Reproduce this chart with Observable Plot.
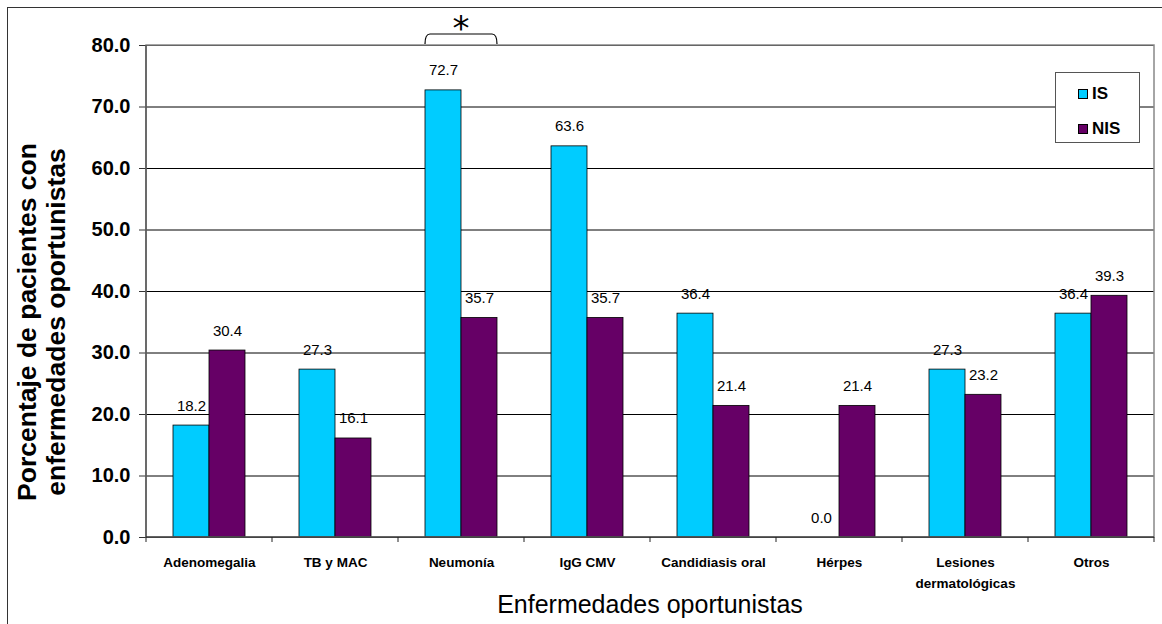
<!DOCTYPE html>
<html><head><meta charset="utf-8">
<script src="https://cdn.jsdelivr.net/npm/d3@7"></script>
<script src="https://cdn.jsdelivr.net/npm/@observablehq/plot@0.6"></script>
<style>
body{margin:0;background:#fff;overflow:hidden;font-family:"Liberation Sans",Arial,sans-serif}
#wrap{position:relative;width:1162px;height:624px;overflow:hidden;background:#fff}
#wrap svg{position:absolute;left:0;top:0}
#border{position:absolute;left:7px;top:7px;width:1170px;height:640px;border:1.5px solid #333;box-sizing:border-box;pointer-events:none}
#ytitle{position:absolute;left:42px;top:322px;width:440px;transform:translate(-50%,-50%) rotate(-90deg);text-align:center;font-weight:bold;font-size:26.5px;line-height:29px;color:#000;white-space:nowrap}
#xtitle{position:absolute;left:650px;top:604px;transform:translate(-50%,-50%);font-size:25px;color:#000;white-space:nowrap}
#legend{position:absolute;left:1055px;top:72px;width:85px;height:71px;border:1px solid #555;box-sizing:border-box;background:#fff}
#legend .item{position:absolute;left:22px;display:flex;align-items:center;font-weight:bold;font-size:17px;color:#000}
#legend .sw{width:8px;height:8px;border:1px solid #000;margin-right:4px}
</style></head>
<body>
<div id="wrap"></div>
<script>
const categories = ["Adenomegalia","TB y MAC","Neumonía","IgG CMV","Candidiasis oral","Hérpes","Lesiones dermatológicas","Otros"];
const categoryLabels = ["Adenomegalia","TB y MAC","Neumonía","IgG CMV","Candidiasis oral","Hérpes","Lesiones\ndermatológicas","Otros"];
const seriesNames = ["IS","NIS"];
const isValues = [18.2,27.3,72.7,63.6,36.4,0.0,27.3,36.4];
const nisValues = [30.4,16.1,35.7,35.7,21.4,21.4,23.2,39.3];
const seriesColors = ["#00CCFF","#660066"];
const yTicks = [0,10,20,30,40,50,60,70,80];
const significantCategory = "Neumonía";
const significantLabel = "*";
const yTitle = "Porcentaje de pacientes con\nenfermedades oportunistas";
const xTitle = "Enfermedades oportunistas";

const rows = categories.flatMap((c,i)=>[
  {category:c, series:seriesNames[0], value:isValues[i]},
  {category:c, series:seriesNames[1], value:nisValues[i]}
]);
const labelOf = Object.fromEntries(categories.map((c,i)=>[c,categoryLabels[i]]));

const plot = Plot.plot({
  width:1162, height:624,
  marginLeft:144, marginRight:6, marginTop:45, marginBottom:87,
  style:{fontFamily:"'Liberation Sans', Arial, sans-serif", background:"transparent", color:"#000"},
  fx:{domain:categories, padding:0},
  x:{domain:seriesNames, paddingInner:0, paddingOuter:0.733, axis:null},
  y:{domain:[0,80]},
  color:{domain:seriesNames, range:seriesColors},
  marks:[
    Plot.gridY(yTicks,{stroke:"#000", strokeOpacity:1, strokeWidth:1}),
    Plot.barY(rows,{fx:"category", x:"series", y:"value", fill:"series", stroke:"#000", strokeWidth:0.8}),
    Plot.text(rows,{fx:"category", x:"series", y:"value", text:d=>d.value.toFixed(1), lineAnchor:"bottom", dy:-15, fontSize:15, fill:"#000"}),
    Plot.axisY(yTicks,{tickFormat:d3.format(".1f"), tickSize:7, tickPadding:9, fontSize:20, fontWeight:"bold", label:null, stroke:"#333"}),
    Plot.axisFx({anchor:"bottom", tickSize:0, tickPadding:14, tickFormat:c=>labelOf[c], fontSize:13.5, fontWeight:"bold", lineHeight:1.6, label:null})
  ]
});

const wrap = document.getElementById("wrap");
wrap.appendChild(plot);

// decorations from the library's scales
const fx = plot.scale("fx"), x = plot.scale("x"), y = plot.scale("y");
const svg = d3.select(plot);
const y0 = y.apply(0), yTop = y.apply(80);
const left = fx.apply(categories[0]);
const right = fx.apply(categories[categories.length-1]) + fx.bandwidth;
const g = svg.append("g");
g.append("rect").attr("x",left).attr("y",yTop).attr("width",right-left).attr("height",y0-yTop)
  .attr("fill","none").attr("stroke","#888").attr("stroke-width",1.5);
g.append("line").attr("x1",left).attr("x2",left).attr("y1",yTop).attr("y2",y0).attr("stroke","#444").attr("stroke-width",1.2);
g.append("line").attr("x1",left).attr("x2",right).attr("y1",y0).attr("y2",y0).attr("stroke","#222").attr("stroke-width",1.2);
const bounds = categories.map(c=>fx.apply(c)).concat([right]);
g.selectAll("line.tk").data(bounds).join("line").attr("class","tk")
  .attr("x1",d=>d).attr("x2",d=>d).attr("y1",y0).attr("y2",y0+5).attr("stroke","#222");

// significance bracket (facet offset + inner band position)
const x0 = x.range[0];
const xa = fx.apply(significantCategory) + x.apply(seriesNames[0]) - x0;
const xb = fx.apply(significantCategory) + x.apply(seriesNames[1]) - x0 + x.bandwidth;
const yb = yTop - 11;
g.append("path").attr("d",`M${xa},${yTop-1}Q${xa},${yb} ${xa+5},${yb}L${xb-5},${yb}Q${xb},${yb} ${xb},${yTop-1}`)
  .attr("fill","none").attr("stroke","#000").attr("stroke-width",1.2);
g.append("text").attr("x",(xa+xb)/2).attr("y",yTop-5).attr("text-anchor","middle")
  .attr("font-family","'DejaVu Sans', sans-serif").attr("font-size",34).text(significantLabel);

// titles and legend
const border = document.createElement("div"); border.id="border"; wrap.appendChild(border);
const yt = document.createElement("div"); yt.id="ytitle"; yt.innerHTML = yTitle.split("\n").join("<br>"); wrap.appendChild(yt);
const xt = document.createElement("div"); xt.id="xtitle"; xt.textContent = xTitle; wrap.appendChild(xt);
const lg = document.createElement("div"); lg.id="legend";
seriesNames.forEach((s,i)=>{
  const it = document.createElement("div"); it.className="item"; it.style.top = (11 + i*35)+"px";
  const sw = document.createElement("span"); sw.className="sw"; sw.style.background = seriesColors[i];
  const tx = document.createElement("span"); tx.textContent = s;
  it.appendChild(sw); it.appendChild(tx); lg.appendChild(it);
});
wrap.appendChild(lg);
</script>
</body></html>
